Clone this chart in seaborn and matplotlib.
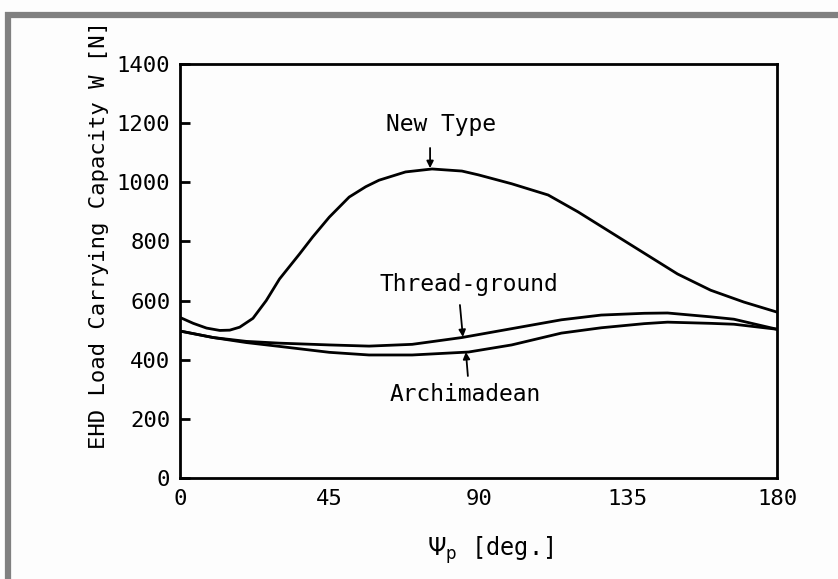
import numpy as np
import pandas as pd
import matplotlib
matplotlib.use("Agg")
import matplotlib.pyplot as plt
from matplotlib.lines import Line2D
import seaborn as sns

# ---- data ----
new_type_x = [0, 4, 8, 12, 15, 18, 22, 26, 30, 36, 40, 45, 51, 56, 60, 68, 76, 85, 90, 100, 111, 120, 130, 140, 150, 160, 170, 180]
new_type_y = [543, 523, 507, 499, 500, 510, 540, 600, 673, 757, 815, 882, 950, 985, 1007, 1035, 1045, 1038, 1025, 995, 957, 900, 830, 760, 690, 635, 595, 561]

thread_x = [0, 10, 20, 30, 45, 57, 70, 85, 100, 115, 127, 140, 147, 160, 167, 180]
thread_y = [497, 475, 462, 456, 450, 446, 452, 475, 505, 535, 551, 557, 558, 545, 537, 503]

arch_x = [0, 10, 20, 30, 45, 57, 70, 87, 100, 115, 127, 140, 147, 160, 167, 180]
arch_y = [497, 475, 458, 445, 425, 416, 416, 426, 450, 490, 508, 522, 527, 523, 520, 503]

x_ticks = [0, 45, 90, 135, 180]
y_ticks = [0, 200, 400, 600, 800, 1000, 1200, 1400]

series_names = ["New Type", "Thread-ground", "Archimadean"]

df = pd.concat([
    pd.DataFrame({"x": new_type_x, "y": new_type_y, "s": series_names[0]}),
    pd.DataFrame({"x": thread_x, "y": thread_y, "s": series_names[1]}),
    pd.DataFrame({"x": arch_x, "y": arch_y, "s": series_names[2]}),
])

sns.set_theme(style="white")
plt.rcParams["font.family"] = ["DejaVu Sans Mono", "DejaVu Sans"]
plt.rcParams["mathtext.fontset"] = "dejavusans"
plt.rcParams["text.color"] = "black"

FS = 16
W, H = 838, 579
fig = plt.figure(figsize=(W / 100, H / 100), dpi=100, facecolor="#fdfdfd")
ax = fig.add_axes([180 / W, 1 - 478 / H, (777 - 180) / W, (478 - 64) / H])
ax.set_facecolor("#fdfdfd")

sns.lineplot(data=df, x="x", y="y", hue="s", palette=["black"] * 3,
             linewidth=2.0, legend=False, ax=ax, sort=False, estimator=None)

ax.set_xlim(0, 180)
ax.set_ylim(0, 1400)
ax.set_xticks(x_ticks)
ax.set_yticks(y_ticks)
ax.set_xticklabels([str(v) for v in x_ticks], fontsize=FS)
ax.set_yticklabels([str(v) for v in y_ticks], fontsize=FS)
ax.tick_params(axis="y", direction="in", length=7, width=2, pad=7, colors="black", left=True)
ax.tick_params(axis="x", length=0, pad=8, colors="black")
for sp in ax.spines.values():
    sp.set_visible(True)
    sp.set_color("black")
    sp.set_linewidth(2)

ax.set_xlabel(r"$\Psi_{\mathrm{p}}$ [deg.]", fontsize=FS + 1, color="black")
ax.xaxis.set_label_coords((490 - 180) / 597, -(550 - 478) / 414)
ax.xaxis.label.set_va("center")
ax.set_ylabel("EHD Load Carrying Capacity W [N]", fontsize=FS, color="black")
ax.yaxis.set_label_coords((99 - 180) / 597, (478 - 235) / 414)
ax.yaxis.label.set_va("center")

arrow = dict(arrowstyle="-|>", color="black", lw=1.3, mutation_scale=10,
             shrinkA=0, shrinkB=0)
ax.annotate("", xy=(75.4, 1048), xytext=(75.4, 1116), arrowprops=arrow)
ax.text(78.7, 1194, "New Type", ha="center", va="center", fontsize=FS + 0.5)
ax.annotate("", xy=(85.3, 477), xytext=(84.4, 585), arrowprops=arrow)
ax.text(87, 653, "Thread-ground", ha="center", va="center", fontsize=FS + 0.5)
ax.annotate("", xy=(86.2, 426), xytext=(86.8, 345), arrowprops=arrow)
ax.text(86, 281, "Archimadean", ha="center", va="center", fontsize=FS + 0.5)

# grey frame of the scanned page
fig.add_artist(Line2D([5 / W, 1], [1 - 15 / H, 1 - 15 / H], color="#808080", lw=4.5,
                      solid_capstyle="butt", transform=fig.transFigure))
fig.add_artist(Line2D([8 / W, 8 / W], [0, 1 - 12 / H], color="#808080", lw=4.5,
                      solid_capstyle="butt", transform=fig.transFigure))

fig.savefig("out.png", dpi=100, facecolor=fig.get_facecolor())
